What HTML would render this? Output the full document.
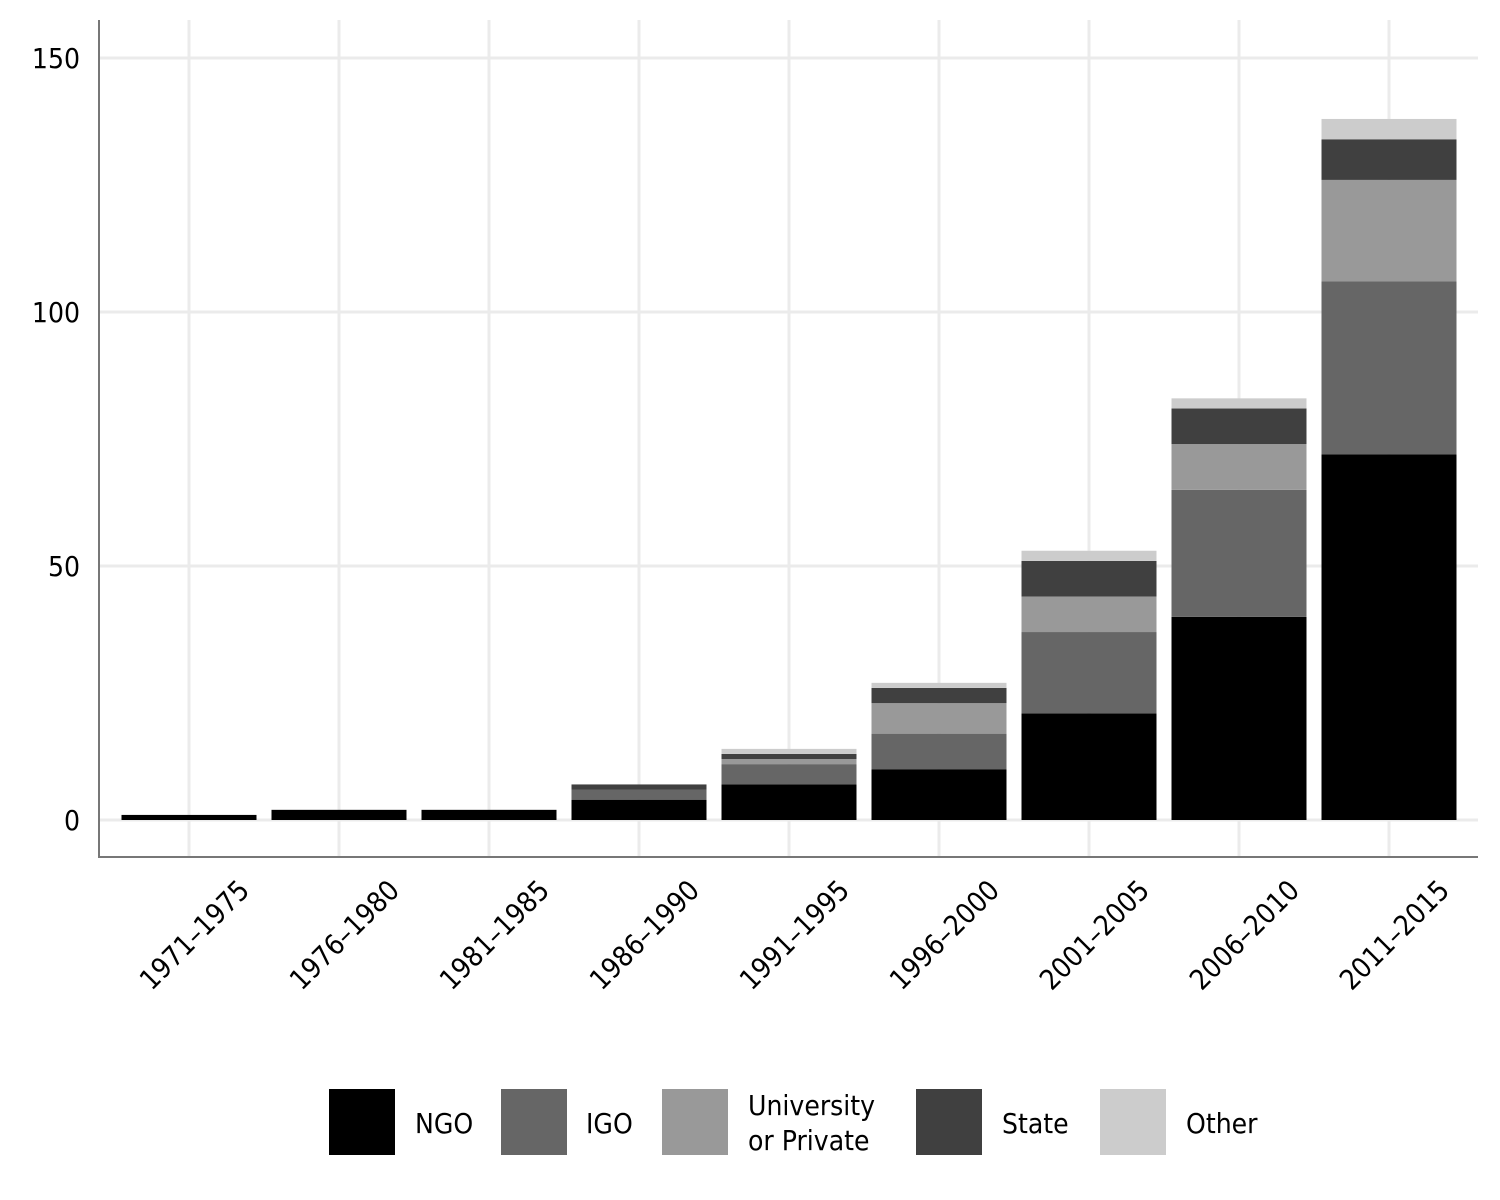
<!DOCTYPE html>
<html><head><meta charset="utf-8"><style>
body{margin:0;background:#fff}
svg{display:block}
text{font-family:"DejaVu Sans Condensed","DejaVu Sans","Liberation Sans",sans-serif;fill:#000}
</style></head><body>
<svg id="chart" width="1500" height="1200">
<g id="grid"></g>
<g id="bars"></g>
<g id="axes"></g>
<g id="legend"></g>
</svg>
<script>
const categories=["1971–1975","1976–1980","1981–1985","1986–1990","1991–1995","1996–2000","2001–2005","2006–2010","2011–2015"];
const seriesNames=["NGO","IGO","University\nor Private","State","Other"];
const seriesColors=["#000000","#666666","#999999","#404040","#cccccc"];
const ngo=[1,2,2,4,7,10,21,40,72];
const igo=[0,0,0,2,4,7,16,25,34];
const univ=[0,0,0,0,1,6,7,9,20];
const state=[0,0,0,1,1,3,7,7,8];
const other=[0,0,0,0,1,1,2,2,4];
const yTicks=[0,50,100,150];
const series=[ngo,igo,univ,state,other];
const NS="http://www.w3.org/2000/svg";
const x0=99,x1=1478,yTop=20,yBot=857;
const y=v=>820-v*(762/150);
const band=150, bw=135;
const xc=i=>189+i*band;
function mk(tag,attrs,parent){const e=document.createElementNS(NS,tag);for(const k in attrs)e.setAttribute(k,attrs[k]);parent.appendChild(e);return e;}
const grid=document.getElementById('grid'),bars=document.getElementById('bars'),axes=document.getElementById('axes'),legend=document.getElementById('legend');
yTicks.forEach(t=>{
  const l=mk('line',{x1:x0,x2:x1,y1:y(t),y2:y(t),stroke:'#ebebeb','stroke-width':3},grid);
  
  
  const tx=mk('text',{x:80,y:y(t)+10,'text-anchor':'end','font-size':28},axes);
  tx.textContent=t;
  
  
});
categories.forEach((c,i)=>{
  const l=mk('line',{x1:xc(i),x2:xc(i),y1:yTop,y2:yBot,stroke:'#ebebeb','stroke-width':3},grid);
  
  
  let cum=0;
  series.forEach((s,k)=>{
    const v=s[i]; if(!v){return;}
    const r=mk('rect',{x:xc(i)-bw/2,y:y(cum+v),width:bw,height:y(cum)-y(cum+v),fill:seriesColors[k]},bars);
    
    
    cum+=v;
  });
  const tx=mk('text',{x:xc(i)+62,y:892,'text-anchor':'end','font-size':28,transform:`rotate(-45 ${xc(i)+62} 892)`},axes);
  tx.textContent=c;
  
  
});
const ax=mk('path',{d:`M${x0} ${yTop}V${yBot}H${x1}`,fill:'none',stroke:'#777','stroke-width':2},axes);


const boxX=[329,501,662,916,1100];
const textX=[415,586,748,1002,1186];
seriesNames.forEach((n,k)=>{
  const g=mk('g',{},legend);
  
  
  mk('rect',{x:boxX[k],y:1089,width:66,height:66,fill:seriesColors[k]},g);
  const lines=n.split('\n');
  lines.forEach((ln,j)=>{
    const t=mk('text',{x:textX[k],y:lines.length>1?1115+j*35:1133,'font-size':28},g);
    t.textContent=ln;
  });
});
</script>
</body></html>
